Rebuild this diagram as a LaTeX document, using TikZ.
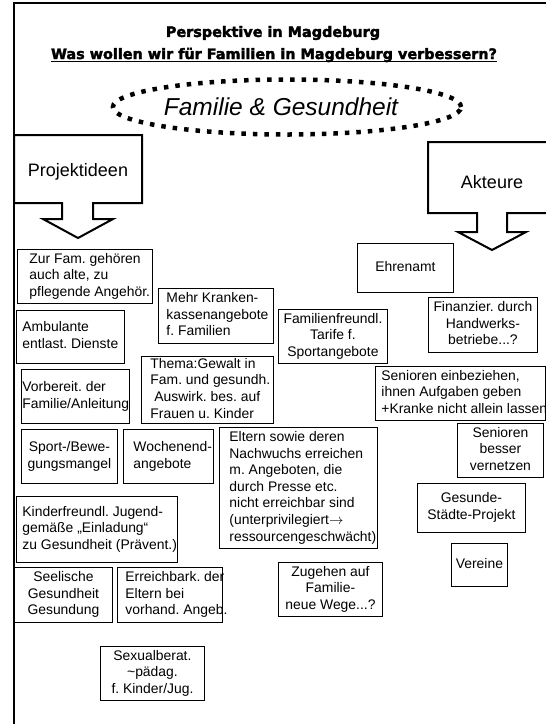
\documentclass[tikz,border=0pt]{standalone}
\usepackage{fontspec}
\setmainfont{Liberation Sans}
\newfontfamily\headfont[FakeBold=2.4]{DejaVu Sans Bold}
\usetikzlibrary{shapes.geometric}
\frenchspacing

% a block of lines set in a box of fixed width; long lines may run past it
\newcommand\cardtext[3]{\makebox[#1][#2]{\begin{tabular}{@{}#2@{}}#3\end{tabular}}}

\tikzset{
  card/.style={draw, line width=0.9pt, inner sep=0pt, anchor=north west,
    font=\fontsize{13.9}{16.6}\selectfont},
  callout/.style={draw, line width=2pt, line join=miter},
  calloutlabel/.style={inner sep=0pt, font=\fontsize{18}{21}\selectfont},
  headline/.style={inner sep=0pt, font=\headfont\fontsize{14.4}{17}\selectfont},
}

\begin{document}
\begin{tikzpicture}[x=1pt, y=-1pt]
\useasboundingbox (0,0) rectangle (546,724);

% page frame (left and top edges)
\draw[line width=2.2pt] (14,724) -- (14,3) -- (546,3);

% headings
\node[headline] (title) at (273,33) {Perspektive in Magdeburg};
\node[headline] (question) at (274,55) {Was wollen wir für Familien in Magdeburg verbessern?};
\draw[line width=1.3pt] ([yshift=-2.6pt]question.base west) -- ([yshift=-2.6pt]question.base east);

% central theme
\node[ellipse, draw, line width=4.5pt, dash pattern=on 4.5pt off 7pt,
      minimum width=306pt, minimum height=55pt, inner sep=0pt,
      font=\itshape\fontsize{24.5}{28}\selectfont] (theme) at (287,107) {Familie \& Gesundheit\hspace*{12pt}};

% block arrow: project ideas
\draw[callout] (14,135) -- (142,135) -- (142,203) -- (93,203) -- (93,219) -- (113,219)
  -- (78,238) -- (43,219) -- (62,219) -- (62,203) -- (14,203) -- cycle;
\node[calloutlabel] (ideas) at (78,172) {Projektideen};

% block arrow: actors
\draw[callout] (546,142) -- (428,142) -- (428,213) -- (477,213) -- (477,232) -- (458,232)
  -- (492,250) -- (526,232) -- (507,232) -- (507,213) -- (546,213);
\node[calloutlabel] (actors) at (492,182) {Akteure};

% project ideas
\node[card, minimum width=135pt, minimum height=54pt] (famold) at (17,249)
  {\cardtext{111pt}{l}{Zur Fam. gehören\\auch alte, zu\\pflegende Angehör.}};
\node[card, minimum width=115pt, minimum height=55pt] (kasse) at (158,288)
  {\cardtext{99pt}{l}{Mehr Kranken-\\kassenangebote\\f. Familien}};
\node[card, minimum width=108pt, minimum height=53pt] (ambulant) at (16,310)
  {\cardtext{96pt}{l}{Ambulante\\entlast. Dienste}};
\node[card, minimum width=108pt, minimum height=54pt] (prep) at (21,369)
  {\cardtext{106pt}{l}{Vorbereit. der\\Familie/Anleitung}};
\node[card, minimum width=132pt, minimum height=67pt] (violence) at (141,356)
  {\cardtext{114pt}{l}{Thema:Gewalt in\\Fam. und gesundh.\\\ Auswirk. bes. auf\\Frauen u. Kinder}};
\node[card, minimum width=96pt, minimum height=54pt] (sport) at (21,429)
  {\cardtext{90pt}{c}{Sport-/Bewe-\\gungsmangel}};
\node[card, minimum width=90pt, minimum height=54pt] (weekend) at (123,429)
  {\cardtext{70pt}{l}{Wochenend-\\angebote}};
\node[card, minimum width=158pt, minimum height=121pt] (parents) at (219,427)
  {\cardtext{138pt}{l}{Eltern sowie deren\\Nachwuchs erreichen\\m. Angeboten, die\\durch Presse etc.\\nicht erreichbar sind\\(unterprivilegiert$\rightarrow$\\ressourcengeschwächt)}};
\node[card, minimum width=161pt, minimum height=66pt] (invite) at (16,496)
  {\cardtext{149pt}{l}{Kinderfreundl. Jugend-\\gemäße „Einladung“\\zu Gesundheit (Prävent.)}};
\node[card, minimum width=98pt, minimum height=55pt] (mental) at (14,567)
  {\cardtext{92pt}{c}{Seelische\\Gesundheit\\Gesundung}};
\node[card, minimum width=105pt, minimum height=55pt] (reach) at (117,567)
  {\cardtext{89pt}{l}{Erreichbark. der\\Eltern bei\\vorhand. Angeb.}};
\node[card, minimum width=104pt, minimum height=54pt] (newways) at (278,562)
  {\cardtext{98pt}{c}{Zugehen auf\\Familie-\\neue Wege...?}};
\node[card, minimum width=104pt, minimum height=54pt] (sexed) at (100,646)
  {\cardtext{98pt}{c}{Sexualberat.\\\textasciitilde pädag.\\f. Kinder/Jug.}};
\node[card, minimum width=109pt, minimum height=54pt] (tariffs) at (278,309)
  {\cardtext{103pt}{c}{Familienfreundl.\\Tarife f.\\Sportangebote}};

% actors
\node[card, minimum width=96pt, minimum height=49pt] (volunteer) at (357,243)
  {\cardtext{90pt}{c}{Ehrenamt}};
\node[card, minimum width=109pt, minimum height=55pt] (crafts) at (428,297)
  {\cardtext{103pt}{c}{Finanzier. durch\\Handwerks-\\betriebe...?}};
\node[card, minimum width=170pt, minimum height=54pt] (seniors) at (375,366)
  {\cardtext{158pt}{l}{Senioren einbeziehen,\\ihnen Aufgaben geben\\+Kranke nicht allein lassen}};
\node[card, minimum width=86pt, minimum height=54pt] (network) at (457,423)
  {\cardtext{80pt}{c}{Senioren\\besser\\vernetzen}};
\node[card, minimum width=108pt, minimum height=49pt] (healthycity) at (417,483)
  {\cardtext{102pt}{c}{Gesunde-\\Städte-Projekt}};
\node[card, minimum width=56pt, minimum height=43pt] (clubs) at (451,543)
  {\cardtext{50pt}{c}{Vereine}};
\end{tikzpicture}
\end{document}
